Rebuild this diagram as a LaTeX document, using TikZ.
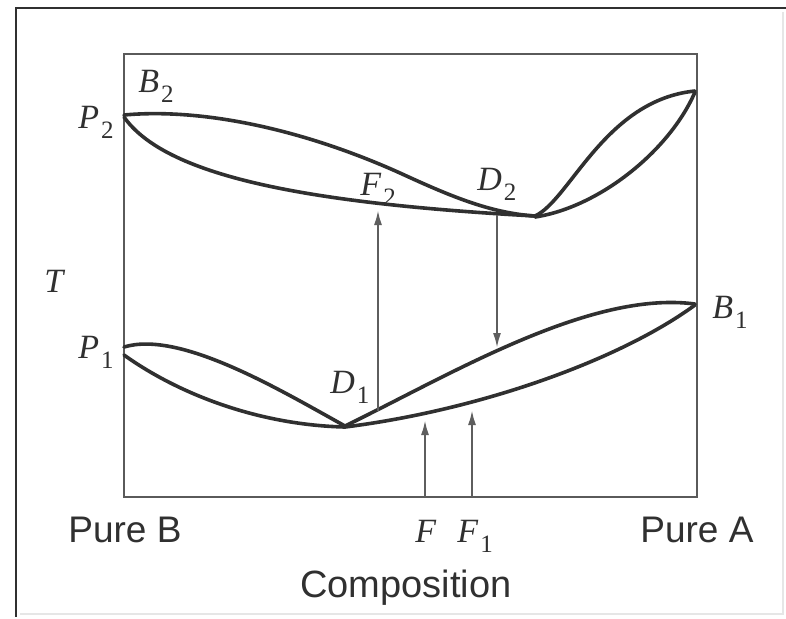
\documentclass[tikz,border=0pt]{standalone}
\usepackage{fontspec}
\setmainfont{Liberation Serif}
\newfontfamily\sansf{Liberation Sans}
\usetikzlibrary{arrows.meta}
\definecolor{ink}{HTML}{303030}
\definecolor{boxc}{HTML}{5A5A5A}
\definecolor{arrc}{HTML}{5E5E5E}
\definecolor{faint}{HTML}{E6E6E6}
\newcommand\lbl[2]{\textit{#1}\kern1pt\raisebox{-0.32em}{\fontsize{12.5}{12.5}\selectfont #2}}
\begin{document}
\begin{tikzpicture}[x=0.5pt,y=-0.5pt,
  curve/.style={draw=ink,line width=1.8pt,line join=round,line cap=round},
  plotbox/.style={draw=boxc,line width=1.2pt},
  feed/.style={draw=arrc,line width=1.1pt,-{Latex[length=7.5pt,width=4pt]}},
  mlab/.style={inner sep=0,anchor=base west,text=ink,font=\fontsize{17}{20}\selectfont},
  slab/.style={inner sep=0,anchor=base west,text=ink,font=\sansf\fontsize{18.5}{22}\selectfont}]
\useasboundingbox (0,0) rectangle (786,618);
\fill[white] (0,0) rectangle (786,618);
% outer scan frame
\draw[faint,line width=0.6pt] (783,12) -- (783,614) -- (20,614);
\draw[ink,line width=1.1pt] (786,8) -- (16,8) -- (16,617);
% plot box
\draw[plotbox] (124,54) rectangle (697,497);
% upper lens, left part
\draw[curve] (124,115) .. controls (200,108) and (300,128) .. (400,173)
  .. controls (450,196) and (490,213) .. (535,216);
\draw[curve] (124,117) .. controls (165,175) and (300,203) .. (535,216);
% upper lens, right part
\draw[curve] (535,216) .. controls (570,200) and (605,100) .. (695,91);
\draw[curve] (535,217) .. controls (600,207) and (670,150) .. (695,92);
% lower lens, left part
\draw[curve] (124,347) .. controls (180,330) and (280,390) .. (345,426);
\draw[curve] (124,355) .. controls (180,395) and (260,425) .. (345,427);
% lower lens, right part
\draw[curve] (345,426) .. controls (450,375) and (590,290) .. (695,304);
\draw[curve] (345,427) .. controls (480,410) and (620,360) .. (695,305);
% named points
\coordinate (D1) at (378,411);
\coordinate (F2) at (378,210);
\coordinate (D2) at (497,215);
\coordinate (L1) at (497,348);
\coordinate (Fb) at (425,497);
\coordinate (Ft) at (425,420);
\coordinate (F1b) at (472,497);
\coordinate (F1t) at (472,410);
% arrows
\draw[feed] (D1) -- (F2);
\draw[feed] (D2) -- (L1);
\draw[feed] (Fb) -- (Ft);
\draw[feed] (F1b) -- (F1t);
% labels
\node[mlab] (lB2) at (138,92) {\lbl{B}{2}};
\node[mlab] (lP2) at (78,128) {\lbl{P}{2}};
\node[mlab] (lF2) at (360,195) {\lbl{F}{2}};
\node[mlab] (lD2) at (477,190) {\lbl{D}{2}};
\node[mlab] (lT) at (44,292) {\textit{T}};
\node[mlab] (lP1) at (78,358) {\lbl{P}{1}};
\node[mlab] (lD1) at (330,393) {\lbl{D}{1}};
\node[mlab] (lB1) at (712,318) {\lbl{B}{1}};
\node[mlab] (lF) at (415,542) {\textit{F}};
\node[mlab] (lF1) at (457,542) {\lbl{F}{1}};
\node[slab] (pB) at (68,542) {Pure B};
\node[slab] (pA) at (640,542) {Pure A};
\node[slab,font=\sansf\fontsize{19}{22}\selectfont] (comp) at (300,597) {Composition};
\end{tikzpicture}
\end{document}
